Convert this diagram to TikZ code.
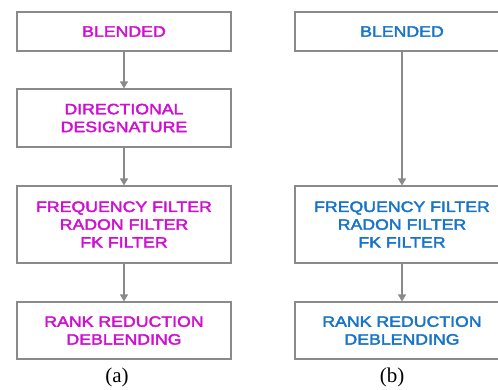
\documentclass[tikz,border=0pt]{standalone}
\usepackage{fontspec}
\setmainfont{Liberation Serif}
\newfontfamily\boxfont[FakeStretch=1.18,FakeBold=2.5]{Liberation Sans}
\newfontfamily\labelfont{Liberation Serif}
\usetikzlibrary{arrows.meta}
\definecolor{magtxt}{HTML}{D010D0}
\definecolor{bluetxt}{HTML}{1874C8}
\definecolor{edgegray}{HTML}{8A8A8A}
\begin{document}
\begin{tikzpicture}[x=1pt,y=-1pt,
  stage/.style={draw=edgegray,line width=1.1pt,fill=white,minimum width=214pt,inner sep=0pt,align=center,font=\boxfont\fontsize{15pt}{17.8pt}\selectfont},
  flow/.style={draw=edgegray,line width=1.1pt,-{Triangle[width=8pt,length=7pt]}},
  sublabel/.style={font=\labelfont\fontsize{21pt}{24pt}\selectfont}]
\useasboundingbox (0,0) rectangle (498,389);
% (a)
\node[stage,minimum height=39pt,text=magtxt] (a1) at (124,31.5) {BLENDED};
\node[stage,minimum height=58pt,text=magtxt] (a2) at (124,118) {DIRECTIONAL\\DESIGNATURE};
\node[stage,minimum height=77pt,text=magtxt] (a3) at (124,224.5) {FREQUENCY FILTER\\RADON FILTER\\FK FILTER};
\node[stage,minimum height=57pt,text=magtxt] (a4) at (124,330.5) {RANK REDUCTION\\DEBLENDING};
\draw[flow] (a1) -- (a2);
\draw[flow] (a2) -- (a3);
\draw[flow] (a3) -- (a4);
\node[sublabel] (la) at (117,377) {(a)};
% (b)
\node[stage,minimum height=39pt,text=bluetxt] (b1) at (402,31.5) {BLENDED};
\node[stage,minimum height=77pt,text=bluetxt] (b3) at (402,224.5) {FREQUENCY FILTER\\RADON FILTER\\FK FILTER};
\node[stage,minimum height=57pt,text=bluetxt] (b4) at (402,330.5) {RANK REDUCTION\\DEBLENDING};
\draw[flow] (b1) -- (b3);
\draw[flow] (b3) -- (b4);
\node[sublabel] (lb) at (392,377) {(b)};
\end{tikzpicture}
\end{document}
